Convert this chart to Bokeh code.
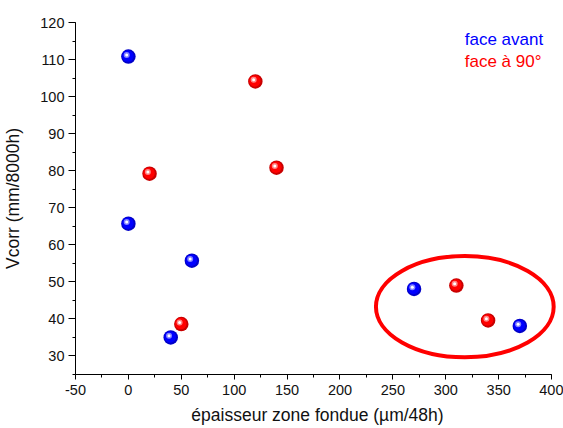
import numpy as np
from bokeh.plotting import figure
from bokeh.models import Range1d, SingleIntervalTicker, Label, ColumnDataSource, PrintfTickFormatter
from bokeh.transform import dodge
from bokeh.embed import file_html
from bokeh.resources import INLINE

# ---- data ----
front_x = [0, 0, 60, 40, 270, 370]
front_y = [110.8, 65.7, 55.7, 35.0, 48.1, 38.1]
side_x = [20, 120, 140, 50, 310, 340]
side_y = [79.2, 104.1, 80.8, 38.6, 49.0, 39.6]
legend_labels = ["face avant", "face à 90°"]
x_label = "épaisseur zone fondue (µm/48h)"
y_label = "Vcorr (mm/8000h)"
ellipse_x = [318]
ellipse_y = [43.3]
ellipse_w = [168]
ellipse_h = [27.3]

FONT = "Liberation Sans"

p = figure(width=563, height=428, output_backend="svg", toolbar_location=None,
           x_range=Range1d(-50, 407.5), y_range=Range1d(25, 120),
           min_border_left=74, min_border_right=4, min_border_top=22,
           min_border_bottom=54)
p.outline_line_color = None
p.xgrid.visible = False
p.ygrid.visible = False
p.background_fill_color = "white"
p.border_fill_color = "white"

# axes
xa = p.xaxis[0]
xa.ticker = SingleIntervalTicker(interval=50, num_minor_ticks=2)
xa.formatter = PrintfTickFormatter(format="%d")
xa.bounds = (-50, 400)
xa.major_tick_in = 0
xa.major_tick_out = 5
xa.minor_tick_in = 0
xa.minor_tick_out = 3
xa.major_label_standoff = 5
xa.major_label_text_font = FONT
xa.major_label_text_font_size = "14.5px"
xa.major_label_text_color = "#111111"
xa.axis_label = x_label
xa.axis_label_text_font = FONT
xa.axis_label_text_font_size = "17.5px"
xa.axis_label_text_font_style = "normal"
xa.axis_label_text_color = "#111111"
xa.axis_label_standoff = 7
xa.axis_line_color = "black"

ya = p.yaxis[0]
ya.ticker = SingleIntervalTicker(interval=10, num_minor_ticks=2)
ya.formatter = PrintfTickFormatter(format="%d")
ya.bounds = (25, 120)
ya.major_tick_in = 0
ya.major_tick_out = 7
ya.minor_tick_in = 0
ya.minor_tick_out = 3
ya.major_label_standoff = 4
ya.major_label_text_font = FONT
ya.major_label_text_font_size = "14.5px"
ya.major_label_text_color = "#111111"
ya.axis_label = y_label
ya.axis_label_text_font = FONT
ya.axis_label_text_font_size = "17.5px"
ya.axis_label_text_font_style = "normal"
ya.axis_label_text_color = "#111111"
ya.axis_label_standoff = 14
ya.axis_line_color = "black"

# highlight ellipse
p.ellipse(x=ellipse_x, y=ellipse_y, width=ellipse_w, height=ellipse_h,
          fill_color=None, line_color="#ff0000", line_width=4)


def spheres(xs, ys, base, mid, hi):
    src = ColumnDataSource(dict(x=xs, y=ys))
    p.scatter("x", "y", source=src, size=14.5, fill_color=base, line_color=None)
    p.scatter(dodge("x", -0.5), dodge("y", 0.14), source=src, size=11.5,
              fill_color=mid, line_color=None)
    p.scatter(dodge("x", -1.6), dodge("y", 0.46), source=src, size=6,
              fill_color=hi, fill_alpha=0.85, line_color=None)
    p.scatter(dodge("x", -1.6), dodge("y", 0.46), source=src, size=3,
              fill_color="white", line_color=None)


spheres(front_x, front_y, "#0000c8", "#0000ff", "#9a9aff")
spheres(side_x, side_y, "#c80000", "#ff0000", "#ff9a9a")

# legend texts
p.add_layout(Label(x=317.9, y=115.35, text=legend_labels[0], text_color="#0000ff",
                   text_font=FONT, text_font_size="17px", text_baseline="alphabetic"))
p.add_layout(Label(x=317.9, y=109.4, text=legend_labels[1], text_color="#ff0000",
                   text_font=FONT, text_font_size="17px", text_baseline="alphabetic"))

open("out.html", "w").write(file_html(p, INLINE))
